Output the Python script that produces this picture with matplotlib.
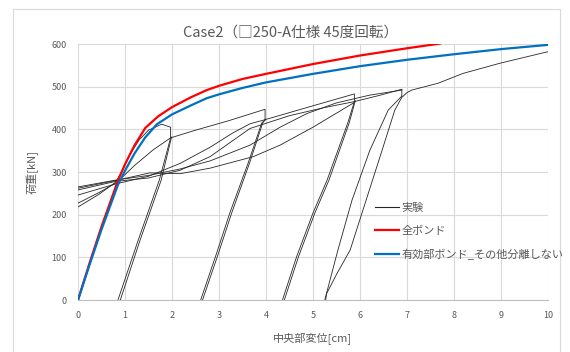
import matplotlib.pyplot as plt
from matplotlib.lines import Line2D
from matplotlib.patches import Rectangle

plt.rcParams['font.family'] = ['Noto Sans CJK JP', 'DejaVu Sans']

# 解析結果（全ボンド / 有効部ボンド）
bond_all_d = [0, 0.25, 0.5, 0.85, 1.0, 1.2, 1.43, 1.7, 2.0, 2.4, 2.74, 3.0, 3.5, 4.0, 5.0, 6.0, 7.0, 7.7]
bond_all_p = [0, 88, 172, 280, 318, 362, 403, 430, 452, 475, 492, 502, 518, 530, 553, 573, 590, 601]
bond_eff_d = [0, 0.25, 0.5, 0.85, 1.0, 1.2, 1.43, 1.68, 2.0, 2.4, 2.74, 3.0, 3.5, 4.0, 5.0, 6.0, 7.0, 8.0, 9.0, 10.0]
bond_eff_p = [0, 84, 165, 270, 303, 343, 381, 412, 435, 456, 473, 482, 497, 510, 530, 548, 563, 576, 588, 598]

# 実験（各区間ごと）
exp_segments = [
    # 初期載荷
    ([0, 0.45, 0.8, 0.95, 1.1, 1.3, 1.5, 1.78, 1.97, 1.97],
     [218, 248, 276, 305, 340, 375, 398, 412, 405, 382]),
    ([0, 0.45, 0.83, 1.2, 1.6, 1.97, 2.5, 3.2, 3.98, 3.98],
     [227, 252, 276, 315, 352, 380, 398, 420, 447, 422]),
    ([0, 0.8, 1.5, 2.17, 2.81, 3.3, 3.66, 3.96, 4.9, 5.88, 5.88],
     [246, 272, 290, 320, 358, 392, 413, 422, 452, 483, 465]),
    ([0, 0.8, 1.5, 2.17, 2.81, 3.66, 4.5, 5.2, 5.88, 6.43, 6.89, 6.89],
     [258, 278, 286, 304, 336, 402, 432, 450, 465, 480, 494, 478]),
    ([0, 0.8, 1.5, 2.17, 2.81, 3.66, 4.3, 4.87, 5.5, 6.2, 6.89],
     [265, 281, 292, 307, 326, 363, 405, 437, 462, 480, 492]),
    ([0, 0.8, 1.53, 2.17, 2.81, 3.73, 4.3, 5.0, 5.88],
     [262, 280, 298, 296, 309, 336, 363, 405, 463]),
    # 除荷・再載荷
    ([0.85, 1.28, 1.73, 1.97], [0, 140, 281, 380]),
    ([0.90, 1.32, 1.77, 1.99], [0, 140, 281, 382]),
    ([2.61, 2.95, 3.23, 3.62, 3.91, 3.98], [0, 110, 204, 321, 415, 422]),
    ([2.65, 2.99, 3.27, 3.65, 3.93, 3.99], [0, 110, 204, 321, 415, 424]),
    ([4.35, 4.65, 5.0, 5.3, 5.74, 5.88], [0, 101, 204, 281, 415, 465]),
    ([4.39, 4.69, 5.04, 5.34, 5.77, 5.9], [0, 101, 204, 281, 415, 467]),
    ([6.89, 6.6, 6.21, 5.83, 5.53, 5.25], [478, 445, 351, 234, 117, 0]),
    ([5.27, 5.29, 5.5, 5.79, 6.13, 6.47, 6.74, 6.89, 7.0, 7.1, 7.66, 8.19, 8.98, 10.0],
     [0, 15, 60, 117, 234, 351, 445, 475, 486, 492, 508, 531, 555, 582]),
]

x_ticks = list(range(0, 11))
y_ticks = list(range(0, 601, 100))

fig = plt.figure(figsize=(5.7, 3.52), dpi=100)
fig.patches.append(Rectangle((12.5 / 570, -0.05), 547.5 / 570, 1 - 8.5 / 352 + 0.05,
                             transform=fig.transFigure, fill=False,
                             edgecolor='#D9D9D9', linewidth=0.8))

ax = fig.add_axes([78 / 570, 52 / 352, 470 / 570, 256 / 352])
grid_c = '#D9D9D9'
text_c = '#595959'

for d, p in exp_segments:
    ax.plot(d, p, color='#262626', linewidth=0.6, zorder=2)
ax.plot(bond_all_d, bond_all_p, color='#FF0000', linewidth=1.6, zorder=3)
ax.plot(bond_eff_d, bond_eff_p, color='#0070C0', linewidth=1.6, zorder=3)

ax.set_xlim(0, 10)
ax.set_ylim(0, 600)
ax.set_xticks(x_ticks)
ax.set_yticks(y_ticks)
ax.grid(True, color=grid_c, linewidth=0.8)
ax.set_axisbelow(True)
for s in ['top', 'right', 'left']:
    ax.spines[s].set_visible(False)
ax.spines['bottom'].set_color('#BFBFBF')
ax.tick_params(length=0, labelsize=6.5, labelcolor=text_c, pad=8)

ax.set_xlabel('中央部変位[cm]', fontsize=8, color=text_c, labelpad=9)
ax.set_ylabel('荷重[kN]', fontsize=8, color=text_c, labelpad=9)
fig.text(291 / 570, 1 - 33 / 352, 'Case2（□250-A仕様 45度回転）', ha='center', va='center',
         fontsize=10.5, color=text_c)

handles = [
    Line2D([], [], color='#262626', linewidth=0.8),
    Line2D([], [], color='#FF0000', linewidth=1.6),
    Line2D([], [], color='#0070C0', linewidth=1.6),
]
labels = ['実験', '全ボンド', '有効部ボンド_その他分離しない']
leg = fig.legend(handles, labels, loc='upper left', bbox_to_anchor=(375 / 570, 1 - 203 / 352),
                 frameon=False, fontsize=8, handlelength=2.15, handletextpad=0.2,
                 labelspacing=1.15, borderpad=0, borderaxespad=0)
for t in leg.get_texts():
    t.set_color(text_c)

fig.savefig('out.png', dpi=100)
